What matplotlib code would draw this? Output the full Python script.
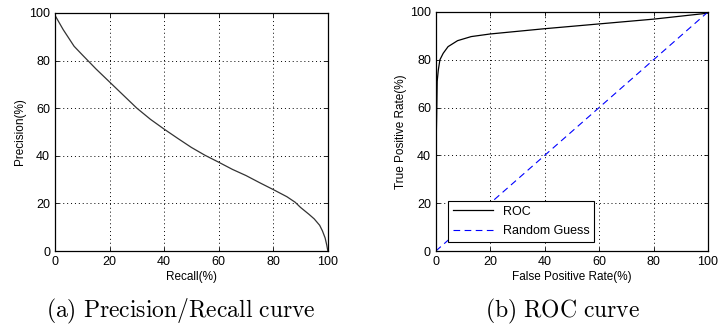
import matplotlib
matplotlib.use("Agg")
import matplotlib.pyplot as plt

plt.rcParams["font.family"] = ["Liberation Sans", "DejaVu Sans"]
plt.rcParams["mathtext.fontset"] = "cm"

# Precision / recall curve (percent)
recall = [0, 1, 3, 5, 7, 10, 15, 20, 25, 30, 35, 40, 45, 50, 55, 60, 65, 70,
          75, 80, 85, 88, 90, 93, 95, 97, 98, 99, 99.6, 100]
precision = [99, 97, 93, 89.5, 86, 82.4, 76.5, 71, 65.5, 60, 55.3, 51.2, 47.3,
             43.5, 40.2, 37.3, 34.3, 31.7, 28.7, 25.8, 22.8, 20.5, 18.3, 15.5,
             13.5, 10.8, 8.5, 5.5, 2.5, 0]

# ROC curve (percent)
fpr = [0.2, 0.2, 0.3, 0.5, 0.9, 1.5, 2.7, 4.5, 8, 13, 20, 40, 60, 80, 100]
tpr = [28, 50, 56, 71, 75.6, 80, 82.7, 85.5, 88, 89.7, 90.8, 93, 95, 97, 99.5]

# Random guess diagonal
guess = [0, 100]

ticks = [0, 20, 40, 60, 80, 100]


def style_axes(ax, xlabel, ylabel):
    ax.set_xlim(0, 100)
    ax.set_ylim(0, 100)
    ax.set_xticks(ticks)
    ax.set_yticks(ticks)
    ax.tick_params(direction="in", top=True, right=True, labelsize=9,
                   length=3, width=0.6)
    ax.grid(True, color="black", linestyle=(0, (1, 3)), linewidth=0.7)
    ax.set_xlabel(xlabel, fontsize=8.5, labelpad=2)
    ax.set_ylabel(ylabel, fontsize=8.5, labelpad=2)
    for s in ax.spines.values():
        s.set_linewidth(0.9)


fig = plt.figure(figsize=(7.18, 3.27), dpi=100)
ax1 = fig.add_axes([0.0766, 0.2324, 0.380, 0.728])
ax2 = fig.add_axes([0.607, 0.2324, 0.379, 0.731])

ax1.plot(recall, precision, color="#333333", linewidth=0.9)
style_axes(ax1, "Recall(%)", "Precision(%)")

ax2.plot(fpr, tpr, color="black", linewidth=0.9, label="ROC")
ax2.plot(guess, guess, color="blue", linestyle=(0, (6, 4)), linewidth=0.8,
         label="Random Guess")
style_axes(ax2, "False Positive Rate(%)", "True Positive Rate(%)")
leg = ax2.legend(loc="lower left", bbox_to_anchor=(0.02, 0.01), fontsize=9,
                 fancybox=False, framealpha=1, edgecolor="black",
                 handlelength=3.2, borderpad=0.4, labelspacing=0.6)
leg.get_frame().set_linewidth(0.8)

fig.text(0.252, 0.048, r"$\mathrm{(a)\ Precision/Recall\ curve}$",
         ha="center", va="center", fontsize=17)
fig.text(0.783, 0.048, r"$\mathrm{(b)\ ROC\ curve}$",
         ha="center", va="center", fontsize=17)

fig.savefig("out.png", dpi=100)
